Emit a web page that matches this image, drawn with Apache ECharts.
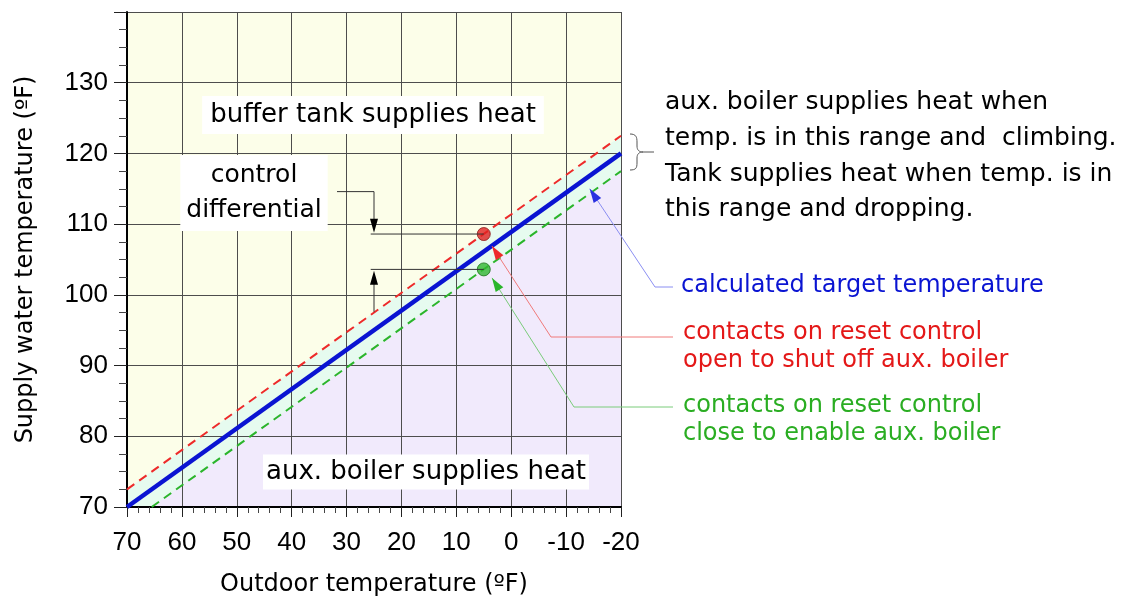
<!DOCTYPE html>
<html><head><meta charset="utf-8">
<script src="https://cdn.jsdelivr.net/npm/echarts@6/dist/echarts.min.js"></script>
<style>html,body{margin:0;padding:0;background:#fff}#c{width:1141px;height:599px}</style>
</head><body><div id="c"></div>
<script>
// ---- data ----
const targetOutdoor = [70, -20];
const targetSupply = [70, 120];
const upperOutdoor = [70, -20];
const upperSupply = [72.5, 122.5];
const lowerOutdoor = [65.5, -20];
const lowerSupply = [70, 117.5];
const openPoint = [5, 108.6];
const closePoint = [5, 103.6];
const xTickValues = [70, 60, 50, 40, 30, 20, 10, 0, -10, -20];
const yTickValues = [70, 80, 90, 100, 110, 120, 130];

const pair = (xs, ys) => xs.map((x, i) => [x, ys[i]]);
const FONT = 'DejaVu Sans';
const chart = echarts.init(document.getElementById('c'), null, {renderer: 'canvas'});

const option = {
  animation: false,
  grid: {left: 127, right: 520, top: 12, bottom: 92, show: true, backgroundColor: '#fcfee9', borderWidth: 0,
    containLabel: false, outerBoundsMode: 'none'},
  xAxis: {
    type: 'value', inverse: true, min: -20, max: 70, interval: 10, z: 2,
    axisLine: {show: true, onZero: false, lineStyle: {color: '#000', width: 2}},
    axisTick: {show: true, length: 10, lineStyle: {color: '#222', width: 1}},
    minorTick: {show: true, splitNumber: 5, length: 6, lineStyle: {color: '#444', width: 1}},
    splitLine: {show: true, lineStyle: {color: '#4d4d4d', width: 1}},
    axisLabel: {color: '#000', fontFamily: 'Liberation Sans', fontSize: 26, margin: 23,
      formatter: v => xTickValues.includes(v) ? String(v) : ''},
    name: 'Outdoor temperature (ºF)', nameLocation: 'middle', nameGap: 66,
    nameTextStyle: {color: '#000', fontFamily: FONT, fontSize: 24}
  },
  yAxis: {
    type: 'value', min: 70, max: 140, interval: 10, z: 2,
    axisLine: {show: true, onZero: false, lineStyle: {color: '#000', width: 2}},
    axisTick: {show: true, length: 13, lineStyle: {color: '#222', width: 1}},
    minorTick: {show: true, splitNumber: 4, length: 8, lineStyle: {color: '#444', width: 1}},
    splitLine: {show: true, lineStyle: {color: '#4d4d4d', width: 1}},
    axisLabel: {color: '#000', fontFamily: 'Liberation Sans', fontSize: 26, margin: 19,
      formatter: v => yTickValues.includes(v) ? String(v) : ''},
    name: 'Supply water temperature (ºF)', nameLocation: 'middle', nameGap: 89,
    nameTextStyle: {color: '#000', fontFamily: FONT, fontSize: 24}
  },
  series: [
    {type: 'line', data: pair(upperOutdoor, upperSupply), symbol: 'none', z: 1,
      lineStyle: {width: 0, opacity: 0}, areaStyle: {color: '#e6fbef', opacity: 1, origin: 'start'}},
    {type: 'line', data: pair(lowerOutdoor, lowerSupply), symbol: 'none', z: 1.5,
      lineStyle: {width: 0, opacity: 0}, areaStyle: {color: '#f1eafc', opacity: 1, origin: 'start'}},
    {type: 'line', data: pair(upperOutdoor, upperSupply), symbol: 'none', z: 3,
      lineStyle: {color: '#ee2a2a', width: 2, type: [9, 6]}},
    {type: 'line', data: pair(lowerOutdoor, lowerSupply), symbol: 'none', z: 3,
      lineStyle: {color: '#2bb52b', width: 2, type: [9, 6]}},
    {type: 'line', data: pair(targetOutdoor, targetSupply), symbol: 'none', z: 3,
      lineStyle: {color: '#0a14d2', width: 4.5}},
    {type: 'scatter', data: [openPoint], symbolSize: 13, z: 5,
      itemStyle: {color: '#e02020', borderColor: '#8a1515', borderWidth: 1}},
    {type: 'scatter', data: [closePoint], symbolSize: 13, z: 5,
      itemStyle: {color: '#30b830', borderColor: '#1a701a', borderWidth: 1}}
  ]
};
chart.setOption(option);

const P = (x, y) => chart.convertToPixel({gridIndex: 0}, [x, y]);
function arrowHead(from, tip, color, len, hw) {
  const dx = tip[0] - from[0], dy = tip[1] - from[1];
  const d = Math.hypot(dx, dy), ux = dx / d, uy = dy / d;
  const bx = tip[0] - ux * len, by = tip[1] - uy * len;
  return {type: 'polygon', z: 20, silent: true,
    shape: {points: [tip, [bx - uy * hw, by + ux * hw], [bx + uy * hw, by - ux * hw]]},
    style: {fill: color}};
}
function poly(points, color, w) {
  return {type: 'polyline', z: 19, silent: true, shape: {points}, style: {stroke: color, lineWidth: w, fill: null}};
}
function bez(x1, y1, cpx1, cpy1, cpx2, cpy2, x2, y2) {
  return {type: 'bezierCurve', z: 19, silent: true, shape: {x1, y1, cpx1, cpy1, cpx2, cpy2, x2, y2},
    style: {stroke: '#555', lineWidth: 1, fill: null}};
}
function txt(text, x, y, size, color, align, vAlign, extra) {
  return Object.assign({type: 'text', z: 22, silent: true,
    style: Object.assign({text, x, y, fill: color, font: size + 'px "' + FONT + '"', align, verticalAlign: vAlign}, extra || {})});
}

const g = [];
// control differential connectors
const cdTop = P(25, 114.6), cdTip1 = P(25, 108.8);
const openPx = P(openPoint[0], openPoint[1]), closePx = P(closePoint[0], closePoint[1]);
const leadStartX = P(25.6, 0)[0];
g.push(poly([[337, cdTop[1]], [cdTop[0], cdTop[1]], [cdTop[0], cdTip1[1] - 10]], '#333', 1));
g.push(arrowHead([cdTop[0], cdTop[1]], cdTip1, '#000', 14, 4));
g.push(poly([[leadStartX, openPx[1]], openPx], '#333', 1));
g.push(poly([[leadStartX, closePx[1]], closePx], '#333', 1));
const cdBot = P(25, 97.6), cdTip2 = P(25, 103.4);
g.push(poly([cdBot, [cdTip2[0], cdTip2[1] + 10]], '#333', 1));
g.push(arrowHead(cdBot, cdTip2, '#000', 14, 4));

// leader lines
const blueTip = P(-14.3, 115.0), redTip = P(3.5, 106.9), greenTip = P(3.5, 102.4);
g.push(poly([blueTip, [655, 287], [673, 287]], '#8a8ef2', 1));
g.push(arrowHead([655, 287], blueTip, '#2a30e0', 14, 4.5));
g.push(poly([redTip, [551, 337], [673, 337]], '#f07a7a', 1));
g.push(arrowHead([551, 337], redTip, '#ee2a2a', 14, 4.5));
g.push(poly([greenTip, [574, 407], [673, 407]], '#7acc7a', 1));
g.push(arrowHead([574, 407], greenTip, '#2bb52b', 14, 4.5));

// brace
g.push(bez(630, 134, 636, 134, 637, 137, 637, 142));
g.push(poly([[637, 142], [637, 146]], '#555', 1));
g.push(bez(637, 146, 637, 150, 639, 152, 643, 152));
g.push(bez(643, 152, 639, 152, 637, 154, 637, 158));
g.push(poly([[637, 158], [637, 163]], '#555', 1));
g.push(bez(637, 163, 637, 168, 636, 170, 630, 170));
g.push(poly([[643, 152], [654, 152]], '#555', 1));

// in-plot labels
g.push(txt('buffer tank supplies heat', 373, 115, 26, '#000', 'center', 'middle', {backgroundColor: '#fff', padding: [7, 8, 5, 8]}));
g.push(txt('aux. boiler supplies heat', 426, 472, 26, '#000', 'center', 'middle', {backgroundColor: '#fff', padding: [5, 3, 4, 3]}));
g.push(txt('control\ndifferential', 254, 193, 25, '#000', 'center', 'middle', {backgroundColor: '#fff', padding: [3, 6, 3, 6], lineHeight: 35}));

// right side annotations
g.push(txt('aux. boiler supplies heat when\ntemp. is in this range and  climbing.\nTank supplies heat when temp. is in\nthis range and dropping.', 665, 85, 25, '#000', 'left', 'top', {lineHeight: 35.6}));
g.push(txt('calculated target temperature', 681, 286, 24, '#0a14d2', 'left', 'middle'));
g.push(txt('contacts on reset control\nopen to shut off aux. boiler', 683, 347, 24, '#e41818', 'left', 'middle', {lineHeight: 28}));
g.push(txt('contacts on reset control\nclose to enable aux. boiler', 683, 420, 24, '#2aad22', 'left', 'middle', {lineHeight: 28}));

chart.setOption({graphic: g});
</script></body></html>
